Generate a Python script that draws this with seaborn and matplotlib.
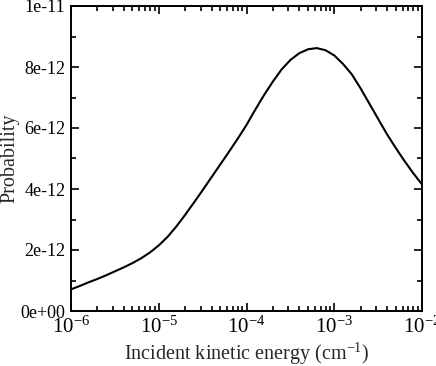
import matplotlib
matplotlib.use("Agg")
import matplotlib.pyplot as plt
import matplotlib.ticker as mticker
import numpy as np
import pandas as pd
import seaborn as sns

# log10 of incident kinetic energy (cm^-1) and probability (units of 1e-12)
log_energy = [-6.0, -5.9, -5.8, -5.7, -5.6, -5.5, -5.4, -5.3, -5.2, -5.1, -5.0,
              -4.9, -4.8, -4.7, -4.6, -4.5, -4.4, -4.3, -4.2, -4.1, -4.0,
              -3.9, -3.8, -3.7, -3.6, -3.5, -3.4, -3.3, -3.2, -3.1, -3.0,
              -2.9, -2.8, -2.7, -2.6, -2.5, -2.4, -2.3, -2.2, -2.1, -2.0]
prob_e12 = [0.71, 0.82, 0.94, 1.05, 1.17, 1.30, 1.43, 1.57, 1.73, 1.92, 2.15,
            2.43, 2.77, 3.15, 3.55, 3.96, 4.38, 4.80, 5.22, 5.65, 6.10,
            6.60, 7.08, 7.52, 7.92, 8.23, 8.45, 8.58, 8.62, 8.55, 8.38,
            8.10, 7.76, 7.30, 6.80, 6.30, 5.80, 5.35, 4.92, 4.52, 4.15]
y_ticks = [0, 2e-12, 4e-12, 6e-12, 8e-12, 1e-11]
y_tick_labels = ["0e+00", "2e-12", "4e-12", "6e-12", "8e-12", "1e-11"]
x_label = "Incident kinetic energy (cm$^{-1}$)"
y_label = "Probability"

df = pd.DataFrame({
    "energy": [10.0 ** v for v in log_energy],
    "prob": [v * 1e-12 for v in prob_e12],
})

sns.set_style("ticks")
plt.rcParams["font.family"] = ["Liberation Serif", "DejaVu Serif"]
plt.rcParams["mathtext.fontset"] = "custom"
plt.rcParams["mathtext.rm"] = "Liberation Serif"
plt.rcParams["mathtext.it"] = "Liberation Serif:italic"

fig = plt.figure(figsize=(4.36, 3.66), dpi=100)
ax = fig.add_axes([71 / 436, 55 / 366, 351 / 436, 305 / 366])

sns.lineplot(data=df, x="energy", y="prob", ax=ax, color="black", linewidth=1.5)

ax.set_xscale("log")
ax.set_xlim(1e-6, 1e-2)
ax.set_ylim(0, 1e-11)
ax.set_yticks(y_ticks)
ax.set_yticklabels(y_tick_labels)
ax.yaxis.set_minor_locator(mticker.MultipleLocator(1e-12))
ax.xaxis.set_major_locator(mticker.LogLocator(base=10, numticks=10))
ax.xaxis.set_minor_locator(mticker.LogLocator(base=10, subs=np.arange(2, 10), numticks=20))
ax.xaxis.set_minor_formatter(mticker.NullFormatter())

for s in ax.spines.values():
    s.set_linewidth(1.4)
    s.set_color("black")

ax.tick_params(which="both", direction="in", top=True, right=True, colors="black",
               width=1.2)
ax.tick_params(axis="y", labelsize=13)
ax.tick_params(axis="x", labelsize=15)
ax.tick_params(which="major", length=6, pad=4)
ax.tick_params(which="minor", length=3.5)

ax.set_xlabel(x_label, fontsize=14.5, labelpad=2)
ax.set_ylabel(y_label, fontsize=14.5, labelpad=1)

fig.savefig("out.png", dpi=100)
